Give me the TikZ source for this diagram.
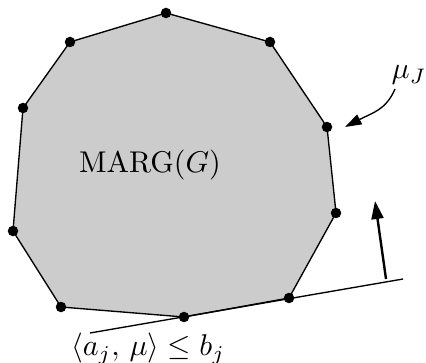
\documentclass[tikz,border=0pt]{standalone}
\usetikzlibrary{arrows.meta}
\begin{document}
\begin{tikzpicture}[x=0.3333pt,y=-0.3333pt,
  vdot/.style={circle,fill=black,inner sep=0pt,minimum size=3.5pt},
  edge/.style={line width=0.45pt},
  thickarrow/.style={line width=0.8pt,-{Triangle[length=6pt,width=4pt]}},
  curvearrow/.style={line width=0.45pt,-{Triangle[length=5.5pt,width=3.6pt]}}]
\useasboundingbox (0,0) rectangle (426,362);
\coordinate (v1) at (166,13);
\coordinate (v2) at (270,42);
\coordinate (v3) at (327,127);
\coordinate (v4) at (336,213);
\coordinate (v5) at (289,298);
\coordinate (v6) at (184,317);
\coordinate (v7) at (61,307);
\coordinate (v8) at (13,231);
\coordinate (v9) at (23,108);
\coordinate (v10) at (70,42);
\filldraw[fill=black!20,edge] (v1) -- (v2) -- (v3) -- (v4) -- (v5) -- (v6) -- (v7) -- (v8) -- (v9) -- (v10) -- cycle;
\foreach \i in {1,...,10} \node[vdot] (d\i) at (v\i) {};
\coordinate (l1) at (90,333);
\coordinate (l2) at (403,279);
\draw[edge] (l1) -- (l2);
\coordinate (a1) at (386,279);
\coordinate (a2) at (375,201);
\draw[thickarrow] (a1) -- (a2);
\node (marg) at (150,165) {MARG$(G)$};
\node (muj) at (409,75) {$\mu_J$};
\coordinate (c1) at (395,89);
\coordinate (c2) at (345,127);
\draw[curvearrow] (c1) .. controls (386,110) and (372,113) .. (c2);
\node (ineq) at (148,349) {$\langle a_j,\, \mu\rangle \le b_j$};
\end{tikzpicture}
\end{document}
